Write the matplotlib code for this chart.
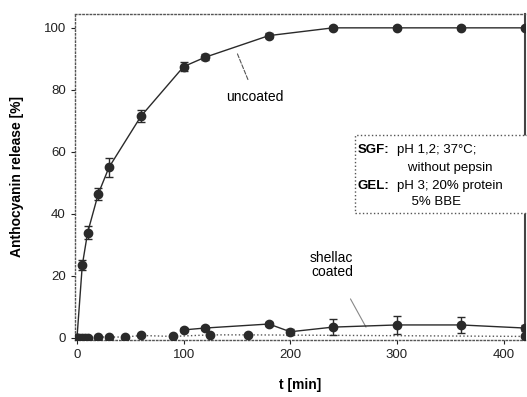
import matplotlib
matplotlib.use('Agg')
import matplotlib.pyplot as plt

plt.rcParams['font.family'] = ['Liberation Sans', 'DejaVu Sans']

# uncoated
t_unc = [0, 5, 10, 20, 30, 60, 100, 120, 180, 240, 300, 360, 420]
rel_unc = [0, 23.5, 34, 46.5, 55, 71.5, 87.5, 90.5, 97.5, 100, 100, 100, 100]
err_unc = [0, 1.5, 2, 2, 3, 2, 1.5, 1, 0.8, 0.5, 0.5, 0.5, 0.5]

# shellac coated, early part (dotted)
t_sh1 = [0, 2, 5, 8, 10, 20, 30, 45, 60, 90, 125, 160, 420]
rel_sh1 = [0, 0, 0, 0, 0, 0.3, 0.3, 0.3, 0.8, 0.5, 1.0, 1.0, 0.5]

# shellac coated, later part (solid, with error bars)
t_sh2 = [100, 120, 180, 200, 240, 300, 360, 420]
rel_sh2 = [2.6, 3.2, 4.5, 2.0, 3.5, 4.2, 4.2, 3.2]
err_sh2 = [0.5, 0.5, 0.5, 1.0, 2.5, 3.0, 2.5, 1.0]

fig = plt.figure(figsize=(5.27, 3.97), dpi=100)
ax = fig.add_axes([0.142, 0.144, 0.854, 0.821])

ax.errorbar(t_unc, rel_unc, yerr=err_unc, color='#2a2a2a', lw=1.0, marker='o',
            ms=6, capsize=3, elinewidth=1, zorder=3)
ax.plot(t_sh1, rel_sh1, color='#555555', lw=1.0, ls=':', marker='o', ms=6,
        markerfacecolor='#2a2a2a', markeredgecolor='#2a2a2a', zorder=3)
ax.errorbar(t_sh2, rel_sh2, yerr=err_sh2, color='#2a2a2a', lw=1.0, marker='o',
            ms=6, capsize=3, elinewidth=1, zorder=3)

ax.set_xlim(-2, 420)
ax.set_ylim(-0.6, 104.5)
ax.set_xticks([0, 100, 200, 300, 400])
ax.set_yticks([0, 20, 40, 60, 80, 100])
ax.tick_params(labelsize=9.5, length=3, width=0.8, colors='#222222')

for s in ['left', 'bottom', 'top']:
    ax.spines[s].set_linestyle(':')
    ax.spines[s].set_color('#555555')
    ax.spines[s].set_linewidth(1.0)
ax.spines['right'].set_color('#444444')
ax.spines['right'].set_linewidth(1.5)

ax.set_xlabel('t [min]', fontsize=10, fontweight='bold', labelpad=12)
ax.set_ylabel('Anthocyanin release [%]', fontsize=10, fontweight='bold', labelpad=14)

ax.annotate('uncoated', xy=(150, 92), xytext=(167, 77.7), fontsize=10,
            ha='center', va='center',
            arrowprops=dict(arrowstyle='-', color='#555555', lw=0.8, ls='--',
                            shrinkA=6, shrinkB=0))
ax.annotate('shellac\ncoated', xy=(271, 3.5), xytext=(239, 23.5), fontsize=10,
            ha='center', va='center', linespacing=1.0,
            arrowprops=dict(arrowstyle='-', color='#888888', lw=0.8,
                            shrinkA=14, shrinkB=0))

# condition box
ax.add_patch(plt.Rectangle((261, 40.3), 165, 25.2, transform=ax.transData,
                           fill=True, facecolor='white', edgecolor='#555555',
                           ls=':', lw=1.0, clip_on=False, zorder=4))
ax.text(263, 60.6, 'SGF:', fontsize=9.5, fontweight='bold', va='center', zorder=5)
ax.text(300, 60.6, 'pH 1,2; 37°C;', fontsize=9.5, va='center', zorder=5)
ax.text(300, 54.8, '   without pepsin', fontsize=9.5, va='center', zorder=5)
ax.text(263, 49, 'GEL:', fontsize=9.5, fontweight='bold', va='center', zorder=5)
ax.text(300, 49, 'pH 3; 20% protein', fontsize=9.5, va='center', zorder=5)
ax.text(300, 43.9, '    5% BBE', fontsize=9.5, va='center', zorder=5)

fig.savefig('out.png', dpi=100)
